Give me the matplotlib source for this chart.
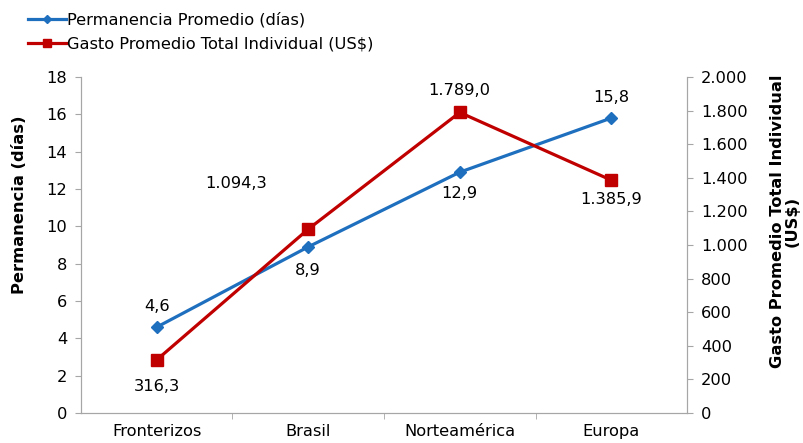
import matplotlib
matplotlib.use('Agg')
import matplotlib.pyplot as plt
from matplotlib.ticker import FuncFormatter, MultipleLocator

# Datos del grafico
categorias = ['Fronterizos', 'Brasil', 'Norteamérica', 'Europa']
permanencia = [4.6, 8.9, 12.9, 15.8]
gasto = [316.3, 1094.3, 1789.0, 1385.9]

perm_label = 'Permanencia Promedio (días)'
gasto_label = 'Gasto Promedio Total Individual (US$)'

AZUL = '#1F6FBF'
ROJO = '#C00000'
GRIS = '#A6A6A6'
FS = 11.7


def fmt_es(v, dec=1):
    s = f"{v:,.{dec}f}"
    return s.replace(',', '#').replace('.', ',').replace('#', '.')


plt.rcParams['font.family'] = ['DejaVu Sans']

fig = plt.figure(figsize=(8.04, 4.43), dpi=100)
ax = fig.add_axes([0.1007, 0.0677, 0.7538, 0.7585])
ax2 = ax.twinx()

x = list(range(len(categorias)))
l1, = ax.plot(x, permanencia, color=AZUL, linewidth=2.3, marker='D',
              markersize=6, zorder=3)
l2, = ax2.plot(x, gasto, color=ROJO, linewidth=2.3, marker='s',
               markersize=9, zorder=3)

ax.set_xlim(-0.5, len(categorias) - 0.5)
ax.set_ylim(0, 18)
ax2.set_ylim(0, 2000)
ax.yaxis.set_major_locator(MultipleLocator(2))
ax2.yaxis.set_major_locator(MultipleLocator(200))
ax2.yaxis.set_major_formatter(FuncFormatter(lambda v, p: fmt_es(v, 0)))

ax.set_xticks(x)
ax.set_xticklabels(categorias, fontsize=FS)
ax.set_xticks([i + 0.5 for i in x[:-1]], minor=True)
ax.tick_params(axis='x', which='major', length=0, pad=8)
ax.tick_params(axis='x', which='minor', length=4, color=GRIS)
ax.tick_params(axis='y', labelsize=FS, length=4, color=GRIS, pad=6)
ax2.tick_params(axis='y', labelsize=FS, length=4, color=GRIS, pad=6)

for a in (ax, ax2):
    a.spines['top'].set_visible(False)
    for s in ('left', 'right', 'bottom'):
        a.spines[s].set_color(GRIS)

ax.set_ylabel('Permanencia (días)', fontsize=FS, fontweight='bold', labelpad=14)
ax.yaxis.label.set_y(0.62)
ax2.set_ylabel('Gasto Promedio Total Individual\n(US$)', fontsize=FS,
               fontweight='bold', rotation=90, labelpad=16, linespacing=0.95)
ax2.yaxis.label.set_y(0.57)

# Etiquetas de datos
perm_off = [(0, 15), (0, -17), (0, -15), (0, 15)]
for i, (v, off) in enumerate(zip(permanencia, perm_off)):
    ax.annotate(fmt_es(v), (i, v), xytext=off, textcoords='offset points',
                ha='center', va='center', fontsize=FS)

gasto_off = [(0, -19), (-52, 33), (0, 16), (0, -14)]
for i, (v, off) in enumerate(zip(gasto, gasto_off)):
    ax2.annotate(fmt_es(v), (i, v), xytext=off, textcoords='offset points',
                 ha='center', va='center', fontsize=FS)

fig.legend([l1, l2], [perm_label, gasto_label], loc='upper left',
           bbox_to_anchor=(0.023, 0.995), frameon=False, fontsize=FS,
           handlelength=2.3, handletextpad=0.1, labelspacing=0.55,
           borderaxespad=0.2, markerscale=0.7)

fig.savefig('out.png', dpi=100)
